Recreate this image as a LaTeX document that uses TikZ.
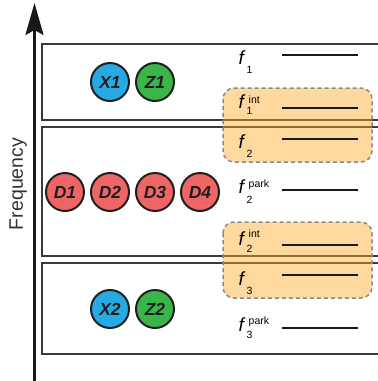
\documentclass[tikz,border=0pt]{standalone}
\usepackage{fontspec}
\setmainfont{Liberation Sans}
\usetikzlibrary{arrows.meta}
\definecolor{cblue}{HTML}{27AAE1}
\definecolor{cgreen}{HTML}{39B54A}
\definecolor{cred}{HTML}{EE6565}
\definecolor{corange}{HTML}{FAAB2C}
\definecolor{cbox}{HTML}{3A3A3A}
\definecolor{cdash}{HTML}{8A8A8A}
\tikzset{
  mol/.style={circle, draw=black!88, line width=2pt, minimum size=38pt, inner sep=0pt,
    text=black!88, font=\fontsize{17.5}{17.5}\selectfont\bfseries\itshape},
  band/.style={draw=cbox, line width=1.4pt},
  level/.style={line width=2.8pt, black!90},
  grp/.style={draw=cdash, dash pattern=on 4pt off 3pt, line width=1.5pt, rounded corners=11pt,
    fill=corange, fill opacity=0.45},
  fl/.style={anchor=base west, inner sep=0pt, font=\fontsize{19}{19}\selectfont\itshape},
  fs/.style={anchor=base west, inner sep=0pt, font=\fontsize{10.5}{10.5}\selectfont},
}
\begin{document}
\begin{tikzpicture}[x=1pt,y=-1pt]
\useasboundingbox (0,0) rectangle (378,381);
% bands
\draw[band] (378,44) -- (42,44) -- (42,120) -- (378,120);
\draw[band] (378,127) -- (42,127) -- (42,256) -- (378,256);
\draw[band] (378,263) -- (42,263) -- (42,354) -- (378,354);
% axis
\coordinate (ax0) at (34.5,381);
\coordinate (ax1) at (34.5,3);
\draw[line width=2.6pt, black!90, -{Stealth[length=32pt,width=18pt,inset=5pt]}] (ax0) -- (ax1);
\node[rotate=90, anchor=base, inner sep=0pt, font=\fontsize{19.5}{19.5}\selectfont, text=black!80] (freq) at (23,184) {Frequency};
% groups
\draw[grp] (223,88) rectangle (372,162);
\draw[grp] (223,222) rectangle (372,298);
% levels
\foreach \n/\y in {a/55, b/108, c/139, d/190, e/245, f/275, g/328}{
  \coordinate (l\n0) at (282,\y);
  \coordinate (l\n1) at (358,\y);
  \draw[level] (l\n0) -- (l\n1);
}
% labels
\node[fl] (fa) at (238.5,64) {f};  \node[fs] (fas) at (246.5,73.5) {1};
\node[fl] (fb) at (238.5,108) {f}; \node[fs] (fbs) at (246.5,114.5) {1}; \node[fs] (fbp) at (248.5,103) {int};
\node[fl] (fc) at (238.5,148) {f}; \node[fs] (fcs) at (246.5,157.5) {2};
\node[fl] (fd) at (238.5,193) {f}; \node[fs] (fds) at (246.5,203) {2}; \node[fs] (fdp) at (248.5,187.5) {park};
\node[fl] (fe) at (238.5,245) {f}; \node[fs] (fes) at (246.5,252) {2}; \node[fs] (fep) at (248.5,237.5) {int};
\node[fl] (ff) at (238.5,285) {f}; \node[fs] (ffs) at (246.5,294.5) {3};
\node[fl] (fg) at (238.5,331) {f}; \node[fs] (fgs) at (246.5,338.5) {3}; \node[fs] (fgp) at (248.5,324.5) {park};
% molecules
\node[mol, fill=cblue] (X1) at (110,82) {X1};
\node[mol, fill=cgreen] (Z1) at (155,82) {Z1};
\node[mol, fill=cred] (D1) at (65,192) {D1};
\node[mol, fill=cred] (D2) at (110,192) {D2};
\node[mol, fill=cred] (D3) at (155,192) {D3};
\node[mol, fill=cred] (D4) at (200,192) {D4};
\node[mol, fill=cblue] (X2) at (110,309) {X2};
\node[mol, fill=cgreen] (Z2) at (155,309) {Z2};
\end{tikzpicture}
\end{document}
